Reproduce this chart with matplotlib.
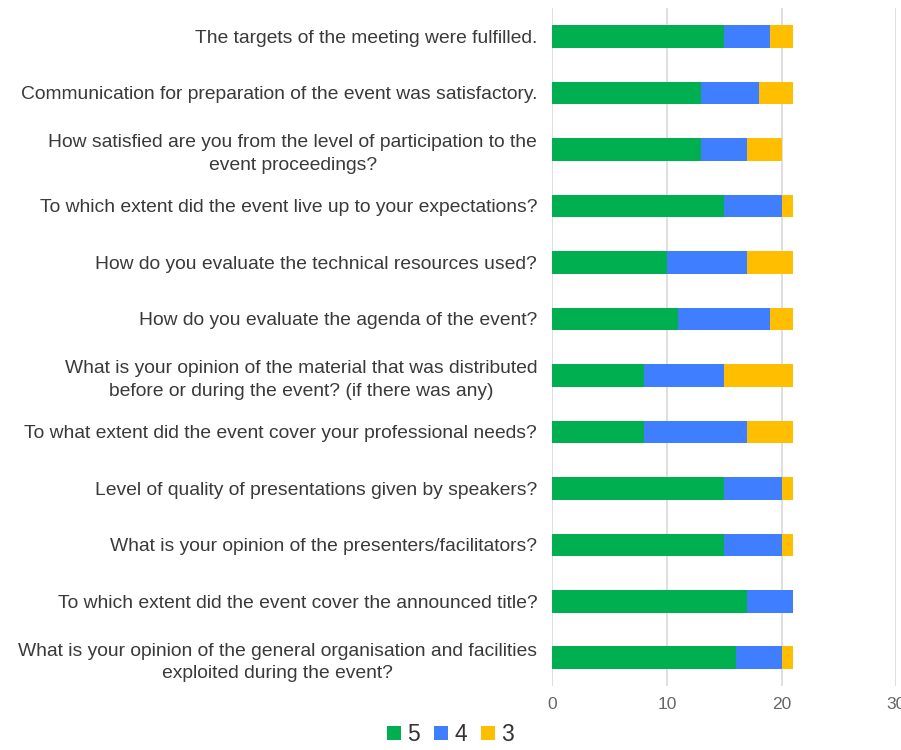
import matplotlib.pyplot as plt
import numpy as np

questions = [
    "The targets of the meeting were fulfilled.",
    "Communication for preparation of the event was satisfactory.",
    "How satisfied are you from the level of participation to the\nevent proceedings?",
    "To which extent did the event live up to your expectations?",
    "How do you evaluate the technical resources used?",
    "How do you evaluate the agenda of the event?",
    "What is your opinion of the material that was distributed\nbefore or during the event? (if there was any)",
    "To what extent did the event cover your professional needs?",
    "Level of quality of presentations given by speakers?",
    "What is your opinion of the presenters/facilitators?",
    "To which extent did the event cover the announced title?",
    "What is your opinion of the general organisation and facilities\nexploited during the event?",
]
score_5 = [15, 13, 13, 15, 10, 11, 8, 8, 15, 15, 17, 16]
score_4 = [4, 5, 4, 5, 7, 8, 7, 9, 5, 5, 4, 4]
score_3 = [2, 3, 3, 1, 4, 2, 6, 4, 1, 1, 0, 1]

series = [("5", score_5, "#00b050"), ("4", score_4, "#3f7fff"), ("3", score_3, "#ffbf00")]

plt.rcParams["font.family"] = ["Liberation Sans", "DejaVu Sans"]

fig = plt.figure(figsize=(9.01, 7.5), dpi=100)
ax = fig.add_axes([0.6132, 0.0853, 0.3813, 0.9037])

y = np.arange(len(questions))
left = np.zeros(len(questions))
for name, vals, color in series:
    ax.barh(y, vals, left=left, height=0.4, color=color, label=name, zorder=3)
    left += np.array(vals)

ax.set_ylim(len(questions) - 0.5, -0.5)
ax.set_xlim(0, 30)
ax.set_xticks([0, 10, 20, 30])
ax.set_yticks(y)
ax.set_yticklabels(questions, fontsize=13.9, color="#3a3a3a", ha="right",
                   multialignment="center", linespacing=1.4)
ax.tick_params(axis="y", length=0, pad=11)
ax.tick_params(axis="x", length=0, labelsize=12.5, labelcolor="#666666", pad=8)
ax.grid(axis="x", color="#d9d9d9", linewidth=1.2, zorder=0)
for s in ax.spines.values():
    s.set_visible(False)

handles, labels = ax.get_legend_handles_labels()
fig.legend(handles, labels, loc="lower center", bbox_to_anchor=(0.5, -0.022), ncol=3,
           frameon=False, fontsize=16.5, handlelength=0.6, handleheight=0.6,
           handletextpad=0.3, columnspacing=0.6, labelcolor="#333333")

fig.savefig("out.png", dpi=100)
